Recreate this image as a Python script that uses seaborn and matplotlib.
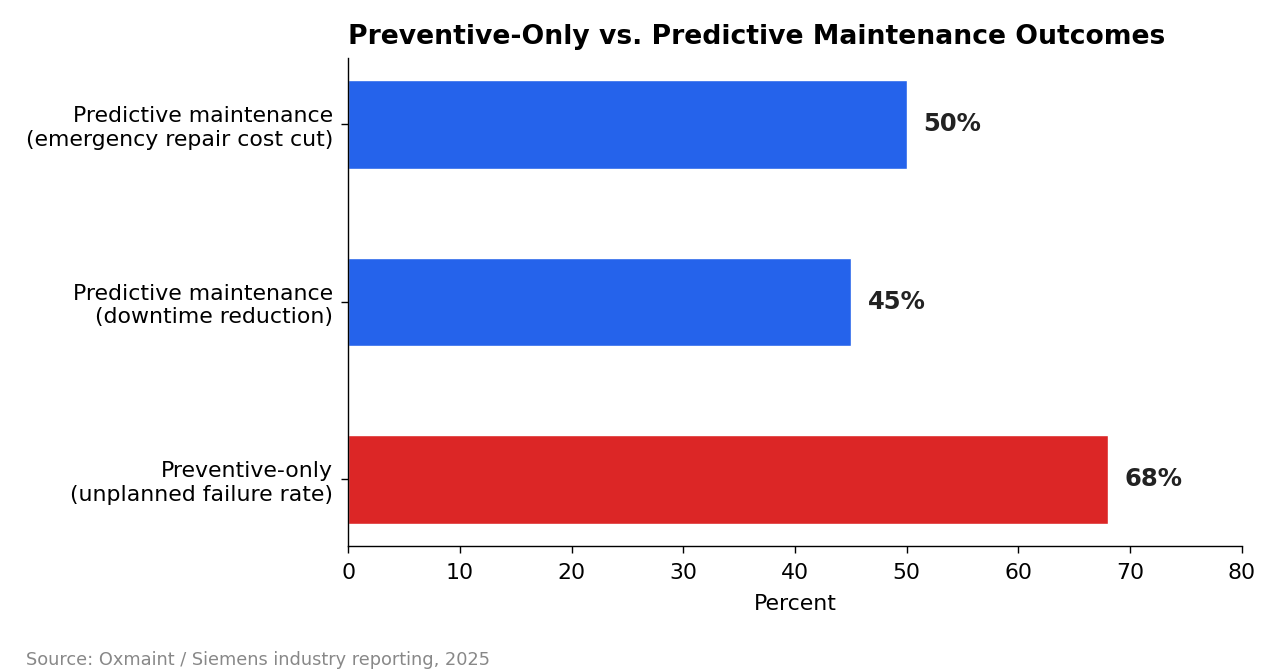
import matplotlib
matplotlib.use("Agg")
import matplotlib.pyplot as plt
import seaborn as sns
import pandas as pd

categories = [
    "Predictive maintenance\n(emergency repair cost cut)",
    "Predictive maintenance\n(downtime reduction)",
    "Preventive-only\n(unplanned failure rate)",
]
values = [50, 45, 68]
colors = ["#2563EB", "#2563EB", "#DC2626"]
title = "Preventive-Only vs. Predictive Maintenance Outcomes"
xlabel = "Percent"
source = "Source: Oxmaint / Siemens industry reporting, 2025"

sns.set_style("white")
plt.rcParams["font.family"] = ["DejaVu Sans"]

df = pd.DataFrame({"cat": categories, "val": values})

fig = plt.figure(figsize=(12.8, 6.72), dpi=100)
ax = fig.add_axes([0.272, 0.1875, 0.698, 0.7265])
sns.barplot(data=df, x="val", y="cat", hue="cat", palette=colors, width=0.5,
            orient="h", legend=False, ax=ax, saturation=1)

for i, v in enumerate(values):
    ax.text(v + 1.5, i, f"{v}%", va="center", ha="left", fontsize=17.5,
            fontweight="bold", color="#222222")

ax.set_xlim(0, 80)
ax.set_ylim(2.375, -0.375)
ax.set_xticks(range(0, 81, 10))
ax.set_xlabel(xlabel, fontsize=15.8, color="black", labelpad=8)
ax.set_ylabel("")
ax.tick_params(axis="both", labelsize=15.8, length=5, width=1, color="black",
               labelcolor="black", left=True, bottom=True)
ax.tick_params(axis="y", pad=6)
ax.tick_params(axis="x", pad=7)
for s in ["top", "right"]:
    ax.spines[s].set_visible(False)
for s in ["left", "bottom"]:
    ax.spines[s].set_color("black")
    ax.spines[s].set_linewidth(1)
ax.set_title(title, fontsize=19.2, fontweight="bold", loc="left", pad=10, color="black")
fig.text(0.02, 0.005, source, fontsize=12.8, color="#888888", ha="left", va="bottom")

fig.savefig("out.png", dpi=100)
